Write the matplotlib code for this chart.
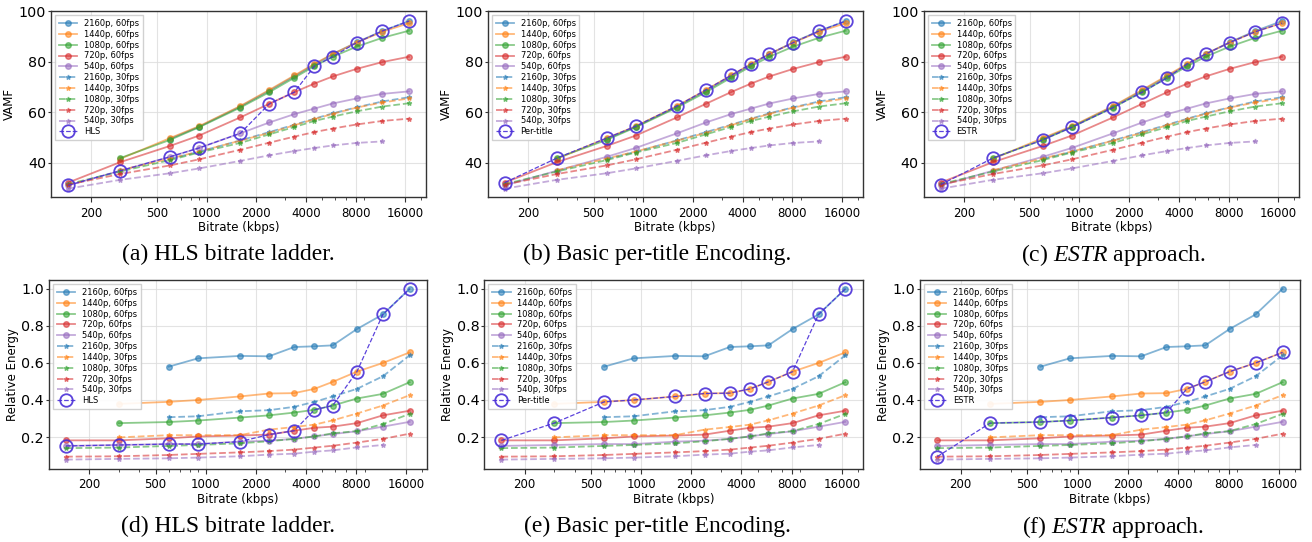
import numpy as np
import matplotlib.pyplot as plt

plt.rcParams['mathtext.fontset'] = 'custom'
plt.rcParams['mathtext.rm'] = 'Liberation Serif'
plt.rcParams['mathtext.it'] = 'Liberation Serif:italic'

nan = np.nan

# ---------------------------------------------------------------
# Data
# ---------------------------------------------------------------
bitrates = [145, 300, 600, 900, 1600, 2400, 3400, 4500, 5800, 8100, 11600, 16800]

labels = ["2160p, 60fps", "1440p, 60fps", "1080p, 60fps", "720p, 60fps", "540p, 60fps",
          "2160p, 30fps", "1440p, 30fps", "1080p, 30fps", "720p, 30fps", "540p, 30fps"]

vamf_2160_60 = [nan, nan, 49.4, 54.2, 62.2, 68.5, 74.2, 78.8, 82.9, 87.6, 92.1, 96.0]
vamf_1440_60 = [nan, 41.5, 49.7, 54.4, 62.4, 68.8, 74.5, 79.1, 83.0, 87.5, 91.8, 95.2]
vamf_1080_60 = [nan, 41.8, 49.0, 54.0, 61.8, 67.9, 73.6, 78.2, 81.9, 85.9, 89.4, 92.2]
vamf_720_60 = [32.1, 40.2, 46.6, 50.7, 57.9, 63.3, 67.9, 71.3, 74.1, 77.1, 79.8, 81.9]
vamf_540_60 = [31.0, 36.8, 42.3, 45.8, 51.6, 55.9, 59.2, 61.4, 63.4, 65.4, 67.2, 68.2]
vamf_2160_30 = [nan, nan, 41.5, 44.3, 48.8, 52.1, 55.0, 57.4, 59.5, 61.9, 64.2, 65.9]
vamf_1440_30 = [nan, 37.0, 41.6, 44.4, 48.7, 51.8, 54.8, 57.2, 59.3, 61.8, 63.8, 65.4]
vamf_1080_30 = [31.5, 36.5, 41.0, 44.0, 47.8, 51.2, 54.1, 56.5, 58.2, 60.3, 62.2, 63.5]
vamf_720_30 = [31.3, 35.5, 38.9, 41.3, 45.1, 47.9, 50.3, 52.1, 53.5, 55.1, 56.5, 57.4]
vamf_540_30 = [29.7, 33.2, 35.8, 37.7, 40.7, 42.9, 44.6, 45.8, 46.8, 47.8, 48.4, nan]

energy_2160_60 = [nan, nan, 0.580, 0.625, 0.638, 0.636, 0.686, 0.690, 0.695, 0.783, 0.862, 1.000]
energy_1440_60 = [nan, 0.379, 0.390, 0.400, 0.419, 0.435, 0.437, 0.460, 0.498, 0.553, 0.600, 0.657]
energy_1080_60 = [nan, 0.275, 0.281, 0.289, 0.305, 0.317, 0.332, 0.347, 0.370, 0.408, 0.433, 0.496]
energy_720_60 = [0.182, 0.182, 0.193, 0.203, 0.208, 0.213, 0.234, 0.250, 0.256, 0.275, 0.317, 0.342]
energy_540_60 = [0.152, 0.157, 0.162, 0.162, 0.175, 0.180, 0.190, 0.204, 0.216, 0.231, 0.256, 0.282]
energy_2160_30 = [nan, nan, 0.307, 0.312, 0.339, 0.345, 0.363, 0.390, 0.419, 0.460, 0.528, 0.641]
energy_1440_30 = [nan, 0.198, 0.210, 0.210, 0.210, 0.240, 0.254, 0.267, 0.290, 0.327, 0.370, 0.426]
energy_1080_30 = [0.140, 0.143, 0.152, 0.157, 0.166, 0.177, 0.190, 0.203, 0.220, 0.232, 0.270, 0.325]
energy_720_30 = [0.094, 0.096, 0.103, 0.109, 0.117, 0.124, 0.132, 0.143, 0.153, 0.170, 0.190, 0.218]
energy_540_30 = [0.078, 0.082, 0.085, 0.089, 0.096, 0.105, 0.110, 0.121, 0.128, 0.144, 0.157, nan]

# which representation each approach picks at every bitrate
hls_pick = ["540p, 60fps"] * 5 + ["720p, 60fps"] * 2 + ["1080p, 60fps"] * 2 + \
           ["1440p, 60fps"] + ["2160p, 60fps"] * 2
pertitle_pick = ["720p, 60fps", "1080p, 60fps"] + ["1440p, 60fps"] * 8 + ["2160p, 60fps"] * 2
estr_pick = ["720p, 30fps"] + ["1080p, 60fps"] * 6 + ["1440p, 60fps"] * 5

vamf = dict(zip(labels, [vamf_2160_60, vamf_1440_60, vamf_1080_60, vamf_720_60, vamf_540_60,
                         vamf_2160_30, vamf_1440_30, vamf_1080_30, vamf_720_30, vamf_540_30]))
energy = dict(zip(labels, [energy_2160_60, energy_1440_60, energy_1080_60, energy_720_60, energy_540_60,
                           energy_2160_30, energy_1440_30, energy_1080_30, energy_720_30, energy_540_30]))

approaches = [("HLS", hls_pick, "(a) HLS bitrate ladder.", "(d) HLS bitrate ladder."),
              ("Per-title", pertitle_pick, "(b) Basic per-title Encoding.", "(e) Basic per-title Encoding."),
              ("ESTR", estr_pick, r"(c) $\mathit{ESTR}$ approach.", r"(f) $\mathit{ESTR}$ approach.")]

colors = ["tab:blue", "tab:orange", "tab:green", "tab:red", "tab:purple"] * 2
ladder_color = "#4a2fd8"
xticks = [200, 500, 1000, 2000, 4000, 8000, 16000]

# axes boxes in figure fractions [left, bottom, width, height]
top_boxes = [[0.0389, 0.6365, 0.2858, 0.3432],
             [0.3717, 0.6365, 0.2858, 0.3432],
             [0.7040, 0.6365, 0.2861, 0.3432]]
bot_boxes = [[0.0373, 0.1356, 0.2880, 0.3478],
             [0.3691, 0.1356, 0.2883, 0.3478],
             [0.7012, 0.1356, 0.2895, 0.3478]]
caption_x = [0.1738, 0.5008, 0.8483]


def draw_panel(ax, table, ladder_name, picks, ylabel):
    for i, lab in enumerate(labels):
        if "60fps" in lab:
            ax.plot(bitrates, table[lab], color=colors[i], marker="o", markersize=4,
                    linewidth=1.3, alpha=0.55, label=lab)
        else:
            ax.plot(bitrates, table[lab], color=colors[i], marker="*", markersize=3.5,
                    linewidth=1.3, linestyle="--", alpha=0.55, label=lab)
    ladder = [table[p][k] for k, p in enumerate(picks)]
    ax.plot(bitrates, ladder, color=ladder_color, linestyle="--", linewidth=0.9,
            marker="o", markersize=9, markerfacecolor="none", markeredgewidth=1.3,
            alpha=0.9, label=ladder_name)
    ax.set_xscale("log")
    ax.set_xticks(xticks)
    ax.set_xticklabels([str(v) for v in xticks])
    ax.tick_params(axis="x", labelsize=8.5, color="#333333")
    ax.tick_params(axis="x", which="minor", length=2, color="#333333")
    ax.tick_params(axis="y", labelsize=10.3, length=2, pad=1.5, color="#333333")
    ax.set_xlabel("Bitrate (kbps)", fontsize=8.5, labelpad=1)
    ax.set_ylabel(ylabel, fontsize=8.5, labelpad=2)
    ax.grid(True, color="#dddddd", linewidth=0.8, alpha=0.8)
    for sp in ax.spines.values():
        sp.set_color("#333333")
        sp.set_linewidth(1.0)
    ax.legend(loc="upper left", fontsize=6.0, handlelength=2.2, labelspacing=0.22,
              borderpad=0.45, framealpha=0.9, edgecolor="#cccccc", fancybox=False)


fig = plt.figure(figsize=(13.12, 5.42), dpi=100)

for k, (name, picks, cap_top, cap_bot) in enumerate(approaches):
    ax = fig.add_axes(top_boxes[k])
    draw_panel(ax, vamf, name, picks, "VAMF")
    ax.set_ylim(26.4, 100)
    ax.set_yticks([40, 60, 80, 100])
    fig.text(caption_x[k], 0.530, cap_top, ha="center", va="center",
             fontsize=17, family="Liberation Serif")

    ax = fig.add_axes(bot_boxes[k])
    draw_panel(ax, energy, name, picks, "Relative Energy")
    ax.set_ylim(0.03, 1.048)
    ax.set_yticks([0.2, 0.4, 0.6, 0.8, 1.0])
    fig.text(caption_x[k], 0.028, cap_bot, ha="center", va="center",
             fontsize=17, family="Liberation Serif")

fig.savefig("out.png", dpi=100)
